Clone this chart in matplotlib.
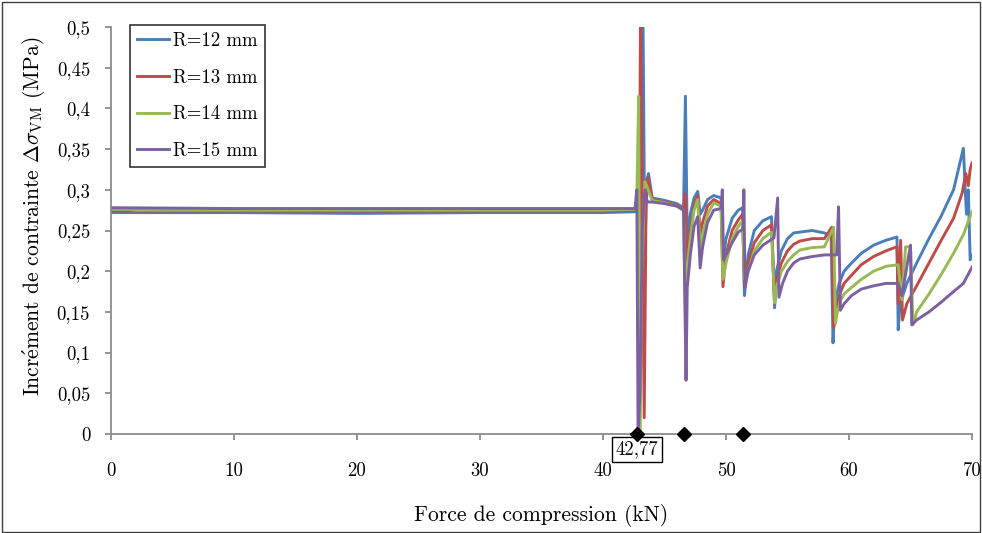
import matplotlib
matplotlib.use("Agg")
import matplotlib.pyplot as plt
from matplotlib.patches import Rectangle

plt.rcParams['font.family'] = ['cmr10', 'DejaVu Serif']
plt.rcParams['mathtext.fontset'] = 'cm'
plt.rcParams['axes.unicode_minus'] = False
plt.rcParams['axes.formatter.use_mathtext'] = True

# ---------------- data ----------------
labels = ['R=12 mm', 'R=13 mm', 'R=14 mm', 'R=15 mm']
colors = ['#4A7EBB', '#BE4B48', '#98B954', '#7D60A0']

x_b = [0, 10, 20, 30, 40, 42.6, 42.8, 42.95, 43.1, 43.25, 43.4, 43.55, 43.7, 44.0, 45.0, 46.0, 46.55, 46.7, 46.85,
       47.1, 47.4, 47.7, 47.9, 48.1, 48.5, 49.0, 49.6, 49.75, 50.0, 50.5, 51.0, 51.35, 51.5, 51.8, 52.3, 53.0, 53.7,
       53.95, 54.1, 54.5, 55.0, 55.5, 56.0, 57.0, 58.0, 58.55, 58.7, 58.85, 59.2, 59.6, 60.2, 61.0, 62.0, 63.0, 63.9,
       64.0, 64.15, 64.7, 65.5, 66.5, 67.5, 68.5, 69.3, 69.45, 69.55, 69.7, 69.85, 70.0]
y_b = [0.272, 0.272, 0.271, 0.272, 0.272, 0.273, 0.28, 0.08, 0.2, 0.52, 0.22, 0.31, 0.32, 0.29, 0.287, 0.283, 0.278,
       0.415, 0.24, 0.27, 0.29, 0.298, 0.27, 0.275, 0.288, 0.293, 0.29, 0.21, 0.24, 0.265, 0.275, 0.278, 0.17, 0.22,
       0.25, 0.262, 0.267, 0.155, 0.2, 0.225, 0.24, 0.247, 0.248, 0.25, 0.247, 0.243, 0.112, 0.16, 0.185, 0.2, 0.21,
       0.222, 0.232, 0.238, 0.242, 0.128, 0.16, 0.185, 0.21, 0.24, 0.268, 0.3, 0.351, 0.3, 0.27, 0.3, 0.214, 0.22]

x_r = [0, 10, 20, 30, 40, 42.6, 42.8, 42.9, 43.05, 43.2, 43.35, 43.5, 43.65, 44.0, 45.0, 46.0, 46.55, 46.7, 46.8,
       47.1, 47.4, 47.7, 47.9, 48.1, 48.5, 49.0, 49.6, 49.75, 50.0, 50.5, 51.0, 51.35, 51.5, 51.8, 52.3, 53.0, 53.7,
       53.95, 54.1, 54.5, 55.0, 55.5, 56.0, 57.0, 58.0, 58.6, 58.75, 58.9, 59.2, 59.6, 60.2, 61.0, 62.0, 63.0, 63.9,
       64.0, 64.2, 64.35, 64.7, 65.5, 66.5, 67.5, 68.5, 69.2, 69.5, 69.7, 69.85, 70.0]
y_r = [0.274, 0.274, 0.274, 0.274, 0.274, 0.275, 0.285, 0.1, 0.52, 0.25, 0.02, 0.28, 0.315, 0.288, 0.285, 0.281,
       0.276, 0.295, 0.21, 0.25, 0.28, 0.293, 0.245, 0.26, 0.28, 0.288, 0.283, 0.181, 0.22, 0.25, 0.263, 0.27, 0.18,
       0.21, 0.235, 0.25, 0.257, 0.16, 0.19, 0.21, 0.225, 0.233, 0.237, 0.24, 0.24, 0.254, 0.131, 0.15, 0.17, 0.185,
       0.195, 0.208, 0.218, 0.225, 0.23, 0.16, 0.238, 0.14, 0.16, 0.182, 0.21, 0.238, 0.265, 0.296, 0.32, 0.305,
       0.325, 0.333]

x_g = [0, 1.5, 2, 10, 20, 30, 40, 42.6, 42.75, 42.9, 43.0, 43.15, 43.4, 43.55, 44.0, 45.0, 46.0, 46.55, 46.7, 46.8,
       47.1, 47.4, 47.7, 47.9, 48.1, 48.5, 49.0, 49.6, 49.75, 50.0, 50.5, 51.0, 51.35, 51.5, 51.8, 52.3, 53.0, 53.7,
       53.95, 54.1, 54.5, 55.0, 55.5, 56.0, 57.0, 58.0, 58.75, 58.9, 59.05, 59.3, 59.6, 60.2, 61.0, 62.0, 63.0, 64.0,
       64.3, 64.6, 65.0, 65.2, 65.5, 66.5, 67.5, 68.5, 69.3, 70.0]
y_g = [0.276, 0.276, 0.275, 0.275, 0.275, 0.275, 0.275, 0.276, 0.29, 0.415, 0.0, 0.2, 0.31, 0.305, 0.287, 0.284,
       0.28, 0.275, 0.149, 0.2, 0.24, 0.275, 0.288, 0.226, 0.245, 0.27, 0.284, 0.28, 0.19, 0.21, 0.24, 0.255, 0.262,
       0.19, 0.2, 0.225, 0.24, 0.248, 0.161, 0.18, 0.2, 0.212, 0.22, 0.226, 0.229, 0.23, 0.254, 0.136, 0.15, 0.164,
       0.172, 0.18, 0.19, 0.2, 0.206, 0.208, 0.165, 0.23, 0.23, 0.134, 0.15, 0.172, 0.196, 0.222, 0.245, 0.273]

x_p = [0, 10, 20, 30, 40, 42.6, 42.75, 42.85, 43.0, 43.2, 43.4, 43.6, 44.0, 45.0, 46.0, 46.55, 46.75, 46.85, 47.1,
       47.4, 47.7, 47.9, 48.1, 48.5, 49.0, 49.6, 49.7, 49.8, 50.0, 50.5, 51.0, 51.4, 51.45, 51.55, 51.8, 52.3, 53.0,
       53.9, 54.2, 54.3, 54.6, 55.0, 55.5, 56.0, 57.0, 58.0, 59.0, 59.15, 59.3, 59.6, 60.2, 61.0, 62.0, 63.0, 64.0,
       64.3, 65.0, 65.1, 65.5, 66.5, 67.5, 68.5, 69.3, 70.0]
y_p = [0.278, 0.277, 0.277, 0.277, 0.277, 0.277, 0.30, 0.0, 0.05, 0.25, 0.30, 0.285, 0.285, 0.283, 0.28, 0.275,
       0.066, 0.18, 0.22, 0.255, 0.267, 0.204, 0.23, 0.26, 0.275, 0.277, 0.30, 0.214, 0.22, 0.235, 0.248, 0.252,
       0.30, 0.18, 0.2, 0.22, 0.232, 0.241, 0.29, 0.168, 0.185, 0.2, 0.21, 0.215, 0.218, 0.22, 0.22, 0.279, 0.152,
       0.16, 0.17, 0.178, 0.182, 0.185, 0.185, 0.17, 0.232, 0.134, 0.14, 0.15, 0.162, 0.175, 0.185, 0.205]

marker_x = [42.77, 46.6, 51.4]
marker_y = [0, 0, 0]
annot_text = '42,77'

x_ticks = [0, 10, 20, 30, 40, 50, 60, 70]
y_ticks = [0, 0.05, 0.1, 0.15, 0.2, 0.25, 0.3, 0.35, 0.4, 0.45, 0.5]
y_ticklabels = ['0', '0,05', '0,1', '0,15', '0,2', '0,25', '0,3', '0,35', '0,4', '0,45', '0,5']

xs = [x_b, x_r, x_g, x_p]
ys = [y_b, y_r, y_g, y_p]

# ---------------- figure ----------------
fig = plt.figure(figsize=(9.82, 5.33), dpi=100)
ax = fig.add_axes([111 / 982, (533 - 434) / 533, (972 - 111) / 982, (434 - 27) / 533])

for xv, yv, c, lab in zip(xs, ys, colors, labels):
    ax.plot(xv, yv, color=c, lw=2.1, label=lab, solid_joinstyle='round')

ax.plot(marker_x, marker_y, 'D', color='black', ms=7, clip_on=False, zorder=10)
ax.annotate(annot_text, xy=(marker_x[0], 0), xytext=(0, -11), textcoords='offset points',
            ha='center', va='center', fontsize=13.5, annotation_clip=False,
            bbox=dict(boxstyle='square,pad=0.2', fc='white', ec='black', lw=1.0))

ax.set_xlim(0, 70)
ax.set_ylim(0, 0.5)
ax.set_xticks(x_ticks)
ax.set_xticklabels([str(t) for t in x_ticks])
ax.set_yticks(y_ticks)
ax.set_yticklabels(y_ticklabels)

for s in ['top', 'right']:
    ax.spines[s].set_visible(False)
for s in ['left', 'bottom']:
    ax.spines[s].set_color('#8C8C8C')
    ax.spines[s].set_linewidth(1.3)
ax.tick_params(axis='both', colors='#8C8C8C', labelcolor='black', length=4.5, width=1.3, direction='out',
               labelsize=13.5)
ax.tick_params(axis='x', pad=16)
ax.tick_params(axis='y', pad=10.5)

ax.set_xlabel('Force de compression (kN)', fontsize=15.5, labelpad=17)
ax.set_ylabel(r'Incr$\acute{\mathrm{e}}$ment de contrainte $\Delta\sigma_{\mathrm{VM}}$ (MPa)', fontsize=15.5)
ax.yaxis.set_label_coords(-0.074, 0.535)

leg = ax.legend(loc='upper left', bbox_to_anchor=(0.022, 1.006), fontsize=13.5, frameon=True, fancybox=False,
                edgecolor='black', handlelength=1.7, handletextpad=0.2, labelspacing=1.0, borderpad=0.4,
                borderaxespad=0.0)
leg.get_frame().set_linewidth(1.2)

fig.patches.append(Rectangle((0.002, 0.002), 0.996, 0.995, transform=fig.transFigure, fill=False,
                             edgecolor='#404040', lw=1.0))

fig.savefig('out.png', dpi=100)
